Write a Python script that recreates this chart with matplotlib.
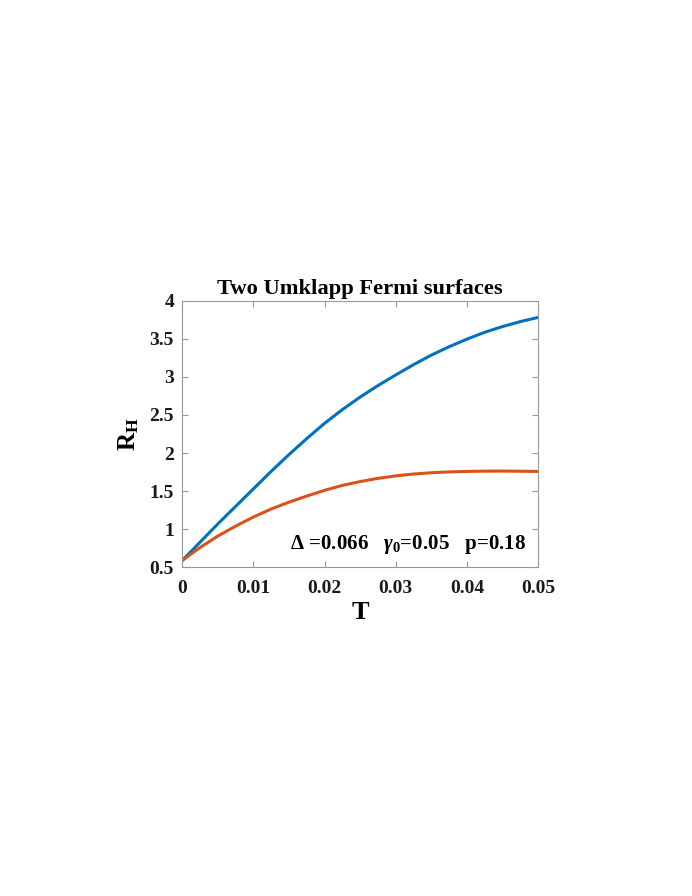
import matplotlib
matplotlib.use("Agg")
import matplotlib.pyplot as plt
import numpy as np

T = [0.0, 0.0025, 0.005, 0.0075, 0.01, 0.0125, 0.015, 0.0175, 0.02, 0.0225, 0.025,
     0.0275, 0.03, 0.0325, 0.035, 0.0375, 0.04, 0.0425, 0.045, 0.0475, 0.05]
RH_blue = [0.59, 0.83, 1.07, 1.30, 1.53, 1.76, 1.98, 2.19, 2.39, 2.57, 2.735,
           2.885, 3.025, 3.16, 3.285, 3.395, 3.495, 3.585, 3.66, 3.725, 3.78]
RH_orange = [0.59, 0.76, 0.91, 1.04, 1.16, 1.265, 1.355, 1.435, 1.51, 1.575, 1.625,
             1.667, 1.70, 1.724, 1.741, 1.752, 1.758, 1.762, 1.763, 1.761, 1.758]

xticks = [0, 0.01, 0.02, 0.03, 0.04, 0.05]
xticklabels = ["0", "0.01", "0.02", "0.03", "0.04", "0.05"]
yticks = [0.5, 1, 1.5, 2, 2.5, 3, 3.5, 4]
yticklabels = ["0.5", "1", "1.5", "2", "2.5", "3", "3.5", "4"]

plt.rcParams['font.family'] = ['Liberation Serif', 'DejaVu Serif']
plt.rcParams['font.weight'] = 'bold'
plt.rcParams['mathtext.fontset'] = 'custom'
plt.rcParams['mathtext.rm'] = 'Liberation Serif:bold'
plt.rcParams['mathtext.bf'] = 'Liberation Serif:bold'
plt.rcParams['mathtext.it'] = 'Liberation Serif:italic'

fig = plt.figure(figsize=(6.92, 8.96), dpi=100)
ax = fig.add_axes([0.2635, 0.3669, 0.5139, 0.2975])

Ts = np.array(T)
ax.plot(Ts, RH_blue, color='#0072BD', lw=2.2, solid_joinstyle='round')
ax.plot(Ts, RH_orange, color='#D95319', lw=2.2, solid_joinstyle='round')

ax.set_xlim(0, 0.05)
ax.set_ylim(0.5, 4)
ax.set_xticks(xticks)
ax.set_xticklabels(xticklabels)
ax.set_yticks(yticks)
ax.set_yticklabels(yticklabels)
ax.tick_params(direction='in', top=True, right=True, length=4, width=0.8,
               color='#999999', labelsize=14, labelcolor='#1a1a1a')
ax.tick_params(axis='x', pad=9)
ax.tick_params(axis='y', pad=6)
for lab in ax.get_xticklabels() + ax.get_yticklabels():
    lab.set_fontweight('bold')
for s in ax.spines.values():
    s.set_color('#999999')
    s.set_linewidth(0.8)

ax.set_title("Two Umklapp Fermi surfaces", fontsize=16.2, fontweight='bold', pad=5)
ax.set_xlabel("T", fontsize=19, fontweight='bold', labelpad=3)
ax.set_ylabel(r"R$_{\mathrm{H}}$", fontsize=18, fontweight='bold', labelpad=6)

ax.text(0.0151, 0.80, r"$\Delta$ =0.066   $\gamma_{0}$=0.05   p=0.18",
        fontsize=15.1, fontweight='bold', va='center', ha='left')

fig.savefig("out.png", dpi=100)
